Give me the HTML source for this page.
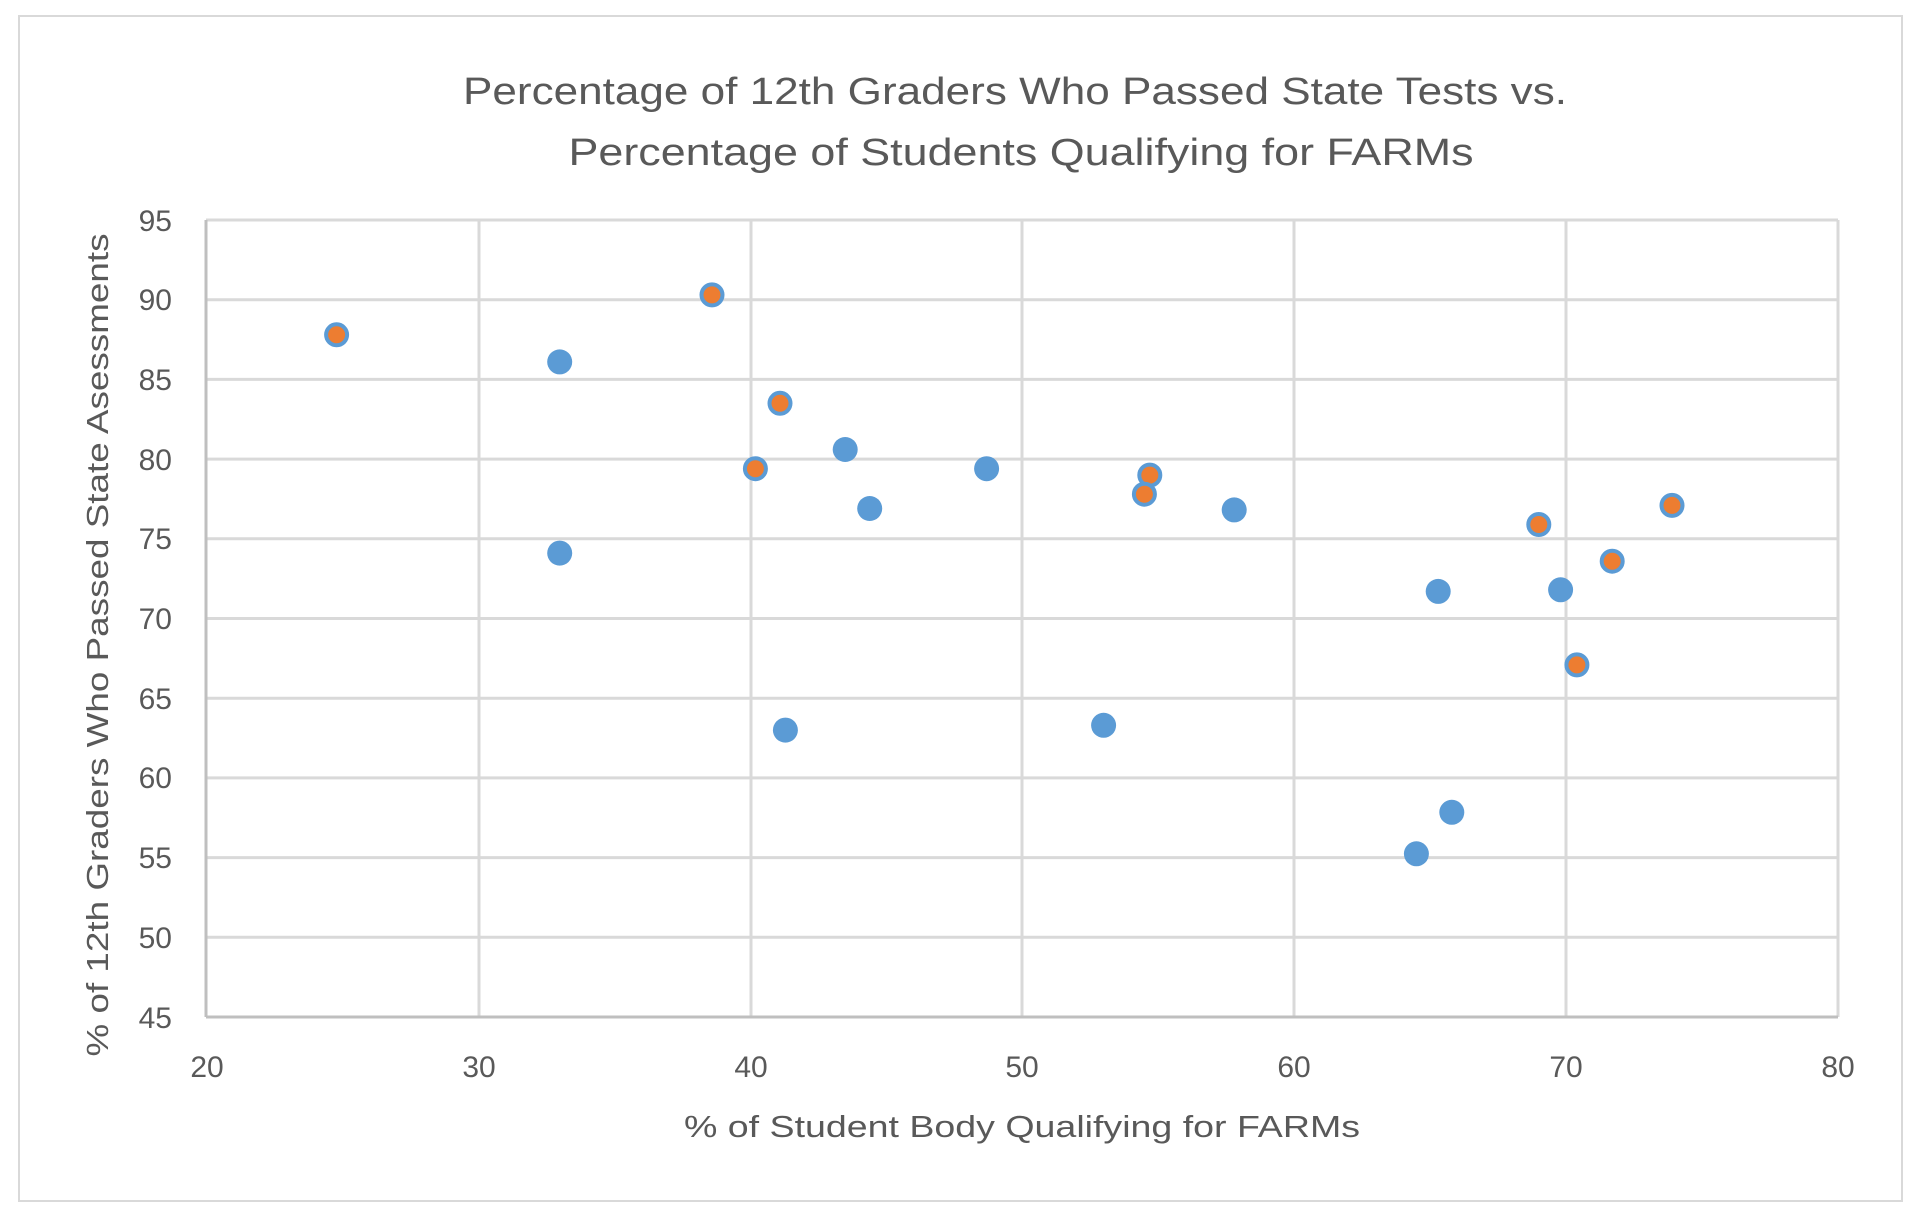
<!DOCTYPE html>
<html><head><meta charset="utf-8"><style>
html,body{margin:0;padding:0;background:#fff;}
svg{display:block;}
text{font-family:"Liberation Sans",sans-serif;fill:#595959;}
</style></head><body>
<svg width="1921" height="1218" viewBox="0 0 1921 1218" xmlns="http://www.w3.org/2000/svg">
<rect x="0" y="0" width="1921" height="1218" fill="#fff"/>
<rect x="19" y="16" width="1883" height="1185" fill="none" stroke="#d9d9d9" stroke-width="2"/>
<g stroke="#d9d9d9" stroke-width="3">
<line x1="206" y1="220" x2="1838" y2="220"/>
<line x1="206" y1="299.7" x2="1838" y2="299.7"/>
<line x1="206" y1="379.4" x2="1838" y2="379.4"/>
<line x1="206" y1="459.1" x2="1838" y2="459.1"/>
<line x1="206" y1="538.8" x2="1838" y2="538.8"/>
<line x1="206" y1="618.5" x2="1838" y2="618.5"/>
<line x1="206" y1="698.2" x2="1838" y2="698.2"/>
<line x1="206" y1="777.9" x2="1838" y2="777.9"/>
<line x1="206" y1="857.6" x2="1838" y2="857.6"/>
<line x1="206" y1="937.3" x2="1838" y2="937.3"/>
<line x1="479" y1="220" x2="479" y2="1017"/>
<line x1="751" y1="220" x2="751" y2="1017"/>
<line x1="1022" y1="220" x2="1022" y2="1017"/>
<line x1="1294" y1="220" x2="1294" y2="1017"/>
<line x1="1566" y1="220" x2="1566" y2="1017"/>
<line x1="1838" y1="220" x2="1838" y2="1017"/>
</g>
<g stroke="#bfbfbf" stroke-width="3">
<line x1="206" y1="220" x2="206" y2="1017"/>
<line x1="206" y1="1017" x2="1838" y2="1017"/>
</g>
<text x="1015" y="104" font-size="38" text-anchor="middle" textLength="1104" lengthAdjust="spacingAndGlyphs">Percentage of 12th Graders Who Passed State Tests vs.</text>
<text x="1021" y="165" font-size="38" text-anchor="middle" textLength="905" lengthAdjust="spacingAndGlyphs">Percentage of Students Qualifying for FARMs</text>
<g font-size="30" text-anchor="end">
<text x="172" y="231">95</text><text x="172" y="310">90</text><text x="172" y="390">85</text>
<text x="172" y="470">80</text><text x="172" y="549">75</text><text x="172" y="629">70</text>
<text x="172" y="709">65</text><text x="172" y="788">60</text><text x="172" y="868">55</text>
<text x="172" y="948">50</text><text x="172" y="1028">45</text>
</g>
<g font-size="30" text-anchor="middle">
<text x="207" y="1077">20</text><text x="479" y="1077">30</text><text x="751" y="1077">40</text>
<text x="1022" y="1077">50</text><text x="1294" y="1077">60</text><text x="1566" y="1077">70</text>
<text x="1838" y="1077">80</text>
</g>
<text x="1022" y="1137" font-size="31" text-anchor="middle" textLength="676" lengthAdjust="spacingAndGlyphs">% of Student Body Qualifying for FARMs</text>
<text transform="translate(108,645) rotate(-90)" x="0" y="0" font-size="31" text-anchor="middle" textLength="823" lengthAdjust="spacingAndGlyphs">% of 12th Graders Who Passed State Asessments</text>
<g fill="#5b9bd5">
<circle cx="559.7" cy="361.9" r="12.5"/>
<circle cx="559.7" cy="553.1" r="12.5"/>
<circle cx="845.2" cy="449.5" r="12.5"/>
<circle cx="869.7" cy="508.5" r="12.5"/>
<circle cx="986.6" cy="468.7" r="12.5"/>
<circle cx="1234.2" cy="509.9" r="12.5"/>
<circle cx="785.4" cy="730.1" r="12.5"/>
<circle cx="1103.6" cy="725.3" r="12.5"/>
<circle cx="1438.2" cy="591.4" r="12.5"/>
<circle cx="1560.6" cy="589.8" r="12.5"/>
<circle cx="1416.4" cy="853.8" r="12.5"/>
<circle cx="1451.8" cy="812.3" r="12.5"/>
</g>
<g fill="#ed7d31" stroke="#5b9bd5" stroke-width="4">
<circle cx="336.6" cy="334.8" r="10.5"/>
<circle cx="712" cy="294.9" r="10.5"/>
<circle cx="780" cy="403.3" r="10.5"/>
<circle cx="755.4" cy="468.7" r="10.5"/>
<circle cx="1149.8" cy="475.1" r="10.5"/>
<circle cx="1144.4" cy="494.2" r="10.5"/>
<circle cx="1538.8" cy="524.5" r="10.5"/>
<circle cx="1612.2" cy="561.2" r="10.5"/>
<circle cx="1672" cy="505.4" r="10.5"/>
<circle cx="1576.9" cy="664.9" r="10.5"/>
</g>
</svg>
</body></html>
